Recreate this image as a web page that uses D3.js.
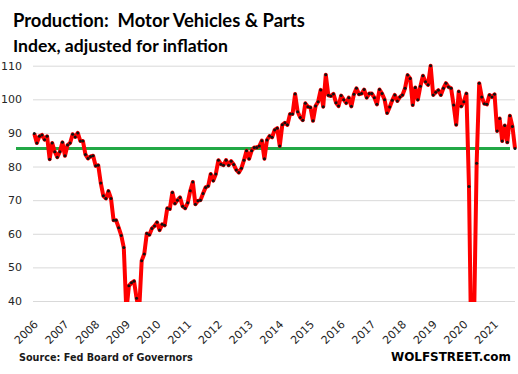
<!DOCTYPE html>
<html>
<head>
<meta charset="utf-8">
<script src="https://cdn.jsdelivr.net/npm/d3@7"></script>
<style>
  html, body { margin: 0; padding: 0; background: #fff; }
  svg { display: block; }
</style>
</head>
<body>
<div id="chart"></div>
<script>
// ── Production: Motor Vehicles & Parts ──
// Monthly index, Jan 2006 .. Sep 2021, one value per month.

const startYear = 2006
const yearLabels = d3.range(2006, 2022).map(String)
const yTicks = [40, 50, 60, 70, 80, 90, 100, 110]
const latestLevel = 85.4

const production = [
  // 2006
  89.8, 87.0, 89.0, 89.4, 88.0, 89.0, 82.2, 87.0, 84.4, 82.8, 84.4, 87.2,
  // 2007
  83.2, 86.4, 87.0, 89.6, 88.8, 90.0, 87.6, 87.6, 83.6, 82.4, 83.0, 83.2,
  // 2008
  80.2, 80.4, 75.1, 71.3, 70.5, 72.7, 70.5, 64.0, 64.0, 61.8, 59.5, 55.9,
  // 2009
  37.0, 44.5, 45.4, 45.9, 40.8, 37.0, 52.0, 54.0, 60.1, 59.7, 61.6, 62.3,
  // 2010
  63.4, 61.1, 62.8, 62.5, 67.6, 67.4, 72.3, 69.0, 70.0, 70.8, 68.2, 67.6,
  // 2011
  69.2, 72.8, 75.4, 68.8, 69.8, 70.0, 72.0, 73.8, 74.2, 77.8, 75.8, 77.8,
  // 2012
  81.9, 80.7, 80.4, 81.9, 80.4, 81.6, 80.6, 79.0, 78.2, 79.5, 81.9, 84.7,
  // 2013
  82.3, 84.7, 85.7, 85.7, 86.1, 87.7, 82.3, 87.9, 89.1, 88.7, 90.9, 91.4,
  // 2014
  86.1, 92.4, 93.0, 92.4, 95.6, 95.6, 101.6, 96.3, 94.6, 93.8, 98.8, 97.8,
  // 2015
  97.6, 93.6, 98.0, 99.3, 102.8, 97.8, 107.3, 101.2, 101.0, 101.6, 99.0, 98.0,
  // 2016
  101.1, 99.9, 98.9, 100.5, 97.9, 101.5, 103.3, 101.5, 101.7, 102.9, 100.5, 101.7,
  // 2017
  101.7, 100.5, 98.5, 102.9, 101.7, 99.9, 95.9, 97.7, 99.7, 101.3, 99.5, 100.7,
  // 2018
  101.3, 103.3, 107.2, 106.2, 98.3, 103.5, 99.9, 103.9, 107.0, 105.2, 104.3, 110.0,
  // 2019
  101.3, 102.1, 102.7, 101.3, 103.3, 104.8, 103.7, 103.3, 98.3, 92.4, 102.3, 97.9,
  // 2020
  99.3, 101.7, 74.1, 20.0, 35.0, 81.0, 104.8, 100.7, 98.7, 98.5, 101.3, 100.7,
  // 2021
  101.5, 90.6, 94.3, 87.6, 92.2, 87.2, 95.1, 91.9, 85.4,
]

const width = 518, height = 374
const plot = { left: 33, right: 515, top: 65.7, bottom: 301 }

const svg = d3.select('#chart')
  .append('svg')
  .attr('width', width)
  .attr('height', height)
  .attr('viewBox', `0 0 ${width} ${height}`)

const x = d3.scalePoint()
  .domain(d3.range(production.length))
  .range([34.3, 515])

const y = d3.scaleLinear()
  .domain([40, 110])
  .range([plot.bottom, plot.top])

// gridlines + y labels
const yAxis = svg.append('g')
  .attr('transform', `translate(${plot.left},0)`)
  .call(d3.axisLeft(y).tickValues(yTicks).tickSize(-(plot.right - plot.left)).tickPadding(11))
yAxis.select('.domain').remove()
yAxis.selectAll('line').attr('stroke', '#d9d9d9').attr('stroke-width', 1)
yAxis.selectAll('text')
  .attr('fill', '#262626')
  .attr('font-family', 'DejaVu Sans, Verdana, sans-serif')
  .attr('font-size', 11)

// x labels, one per January
const xAxis = svg.append('g')
  .attr('transform', `translate(0,${plot.bottom})`)
  .call(d3.axisBottom(x)
    .tickValues(d3.range(0, production.length, 12))
    .tickSize(0)
    .tickFormat(i => yearLabels[i / 12]))
xAxis.select('.domain').remove()
xAxis.selectAll('text')
  .attr('fill', '#262626')
  .attr('font-family', 'DejaVu Sans, Verdana, sans-serif')
  .attr('font-size', 11)
  .attr('text-anchor', 'end')
  .attr('dy', null)
  .attr('y', null)
  .attr('transform', 'translate(4,24) rotate(-45)')

// clip so the 2009 / 2020 collapses stop at the axis floor
svg.append('clipPath').attr('id', 'plotClip')
  .append('rect')
  .attr('x', 0).attr('y', plot.top - 4)
  .attr('width', width).attr('height', plot.bottom - plot.top + 5)

// green reference line at the latest level
svg.append('line')
  .attr('x1', 16).attr('x2', 510)
  .attr('y1', y(latestLevel)).attr('y2', y(latestLevel))
  .attr('stroke', '#22a846')
  .attr('stroke-width', 3)

const series = svg.append('g').attr('clip-path', 'url(#plotClip)')

series.append('path')
  .datum(production)
  .attr('fill', 'none')
  .attr('stroke', '#ff0000')
  .attr('stroke-width', 4)
  .attr('stroke-linejoin', 'round')
  .attr('d', d3.line().x((d, i) => x(i)).y(d => y(d)))

series.selectAll('circle')
  .data(production)
  .join('circle')
  .attr('cx', (d, i) => x(i))
  .attr('cy', d => y(d))
  .attr('r', 1.5)
  .attr('fill', '#111')

// titles and footer
function fitText(sel, targetWidth) {
  const w = sel.node().getComputedTextLength()
  const fs = parseFloat(sel.attr('font-size'))
  sel.attr('font-size', fs * targetWidth / w)
  return sel
}

const title = svg.append('text')
  .attr('x', 13).attr('y', 27)
  .attr('font-family', 'Lato, Open Sans, sans-serif')
  .attr('font-weight', 700)
  .attr('font-size', 18)
  .attr('fill', '#000')
  .attr('xml:space', 'preserve')
  .style('white-space', 'pre')
  .text('Production:  Motor Vehicles & Parts')
fitText(title, 292)

const subtitle = svg.append('text')
  .attr('x', 13).attr('y', 52)
  .attr('font-family', 'Lato, Open Sans, sans-serif')
  .attr('font-weight', 700)
  .attr('font-size', 16)
  .attr('fill', '#000')
  .text('Index, adjusted for inflation')
fitText(subtitle, 215)

const source = svg.append('text')
  .attr('x', 19).attr('y', 361)
  .attr('font-family', 'DejaVu Sans, Verdana, sans-serif')
  .attr('font-weight', 700)
  .attr('font-size', 10)
  .attr('fill', '#1a1a1a')
  .text('Source: Fed Board of Governors')
fitText(source, 174)

const brand = svg.append('text')
  .attr('x', 391).attr('y', 361)
  .attr('font-family', 'DejaVu Sans, Verdana, sans-serif')
  .attr('font-weight', 700)
  .attr('font-size', 12)
  .attr('fill', '#000')
  .text('WOLFSTREET.com')
fitText(brand, 120)
</script>
</body>
</html>
